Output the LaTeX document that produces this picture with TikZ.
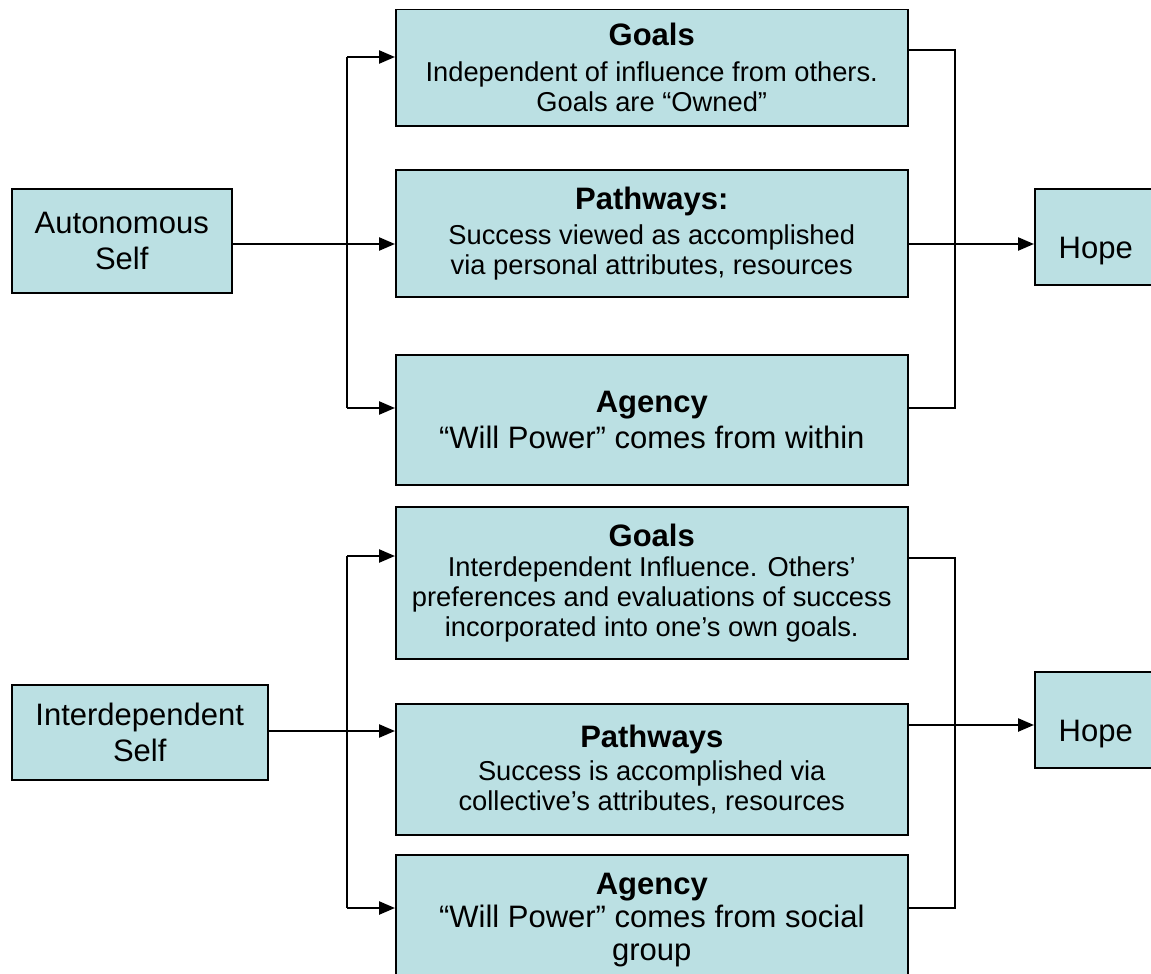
\documentclass[tikz,border=0pt]{standalone}
\usepackage{fontspec}
\setmainfont{Liberation Sans}
\usetikzlibrary{arrows.meta}
\definecolor{boxblue}{HTML}{BBE0E3}
\newcommand\myhd{\fontsize{31}{35}\selectfont\bfseries}
\newcommand\mybd{\fontsize{27.3}{30}\selectfont\mdseries}
\newcommand\mylg{\fontsize{31}{36}\selectfont\mdseries}
\begin{document}
\begin{tikzpicture}[x=1pt,y=-1pt,
  box/.style={draw=black, line width=1.5pt, fill=boxblue, align=center, inner sep=0pt, anchor=north west, font=\fontsize{27}{30}\selectfont},
  bigbox/.style={box, font=\fontsize{31}{36}\selectfont},
  conn/.style={line width=2.4pt, black},
  arr/.style={conn, -{Triangle[length=16pt,width=13pt]}}]
\useasboundingbox (0,0) rectangle (1151,974);
% top group
\node[bigbox, minimum width=220, minimum height=104] (auto) at (11,188) {\mylg Autonomous\\\mylg Self};
\node[box, minimum width=512, minimum height=116] (g1) at (395,9) {\myhd Goals\\[6pt]\mybd Independent of influence from others.\\\mybd Goals are “Owned”};
\node[box, minimum width=512, minimum height=127] (p1) at (395,169) {\myhd Pathways:\\[5pt]\mybd Success viewed as accomplished\\\mybd via personal attributes, resources};
\node[bigbox, minimum width=512, minimum height=130] (a1) at (395,354) {\myhd Agency\\\mylg “Will Power” comes from within};
\node[bigbox, minimum width=122, minimum height=96] (h1) at (1034,188) {\mylg\raisebox{-22pt}[0pt][0pt]{Hope}};
% bottom group
\node[bigbox, minimum width=256, minimum height=95] (inter) at (11,684) {\mylg Interdependent\\\mylg Self};
\node[box, minimum width=512, minimum height=152] (g2) at (395,506) {\raisebox{-3pt}{\myhd Goals}\\[3pt]\mybd Interdependent Influence. Others’\\\mybd preferences and evaluations of success\\\mybd incorporated into one’s own goals.};
\node[box, minimum width=512, minimum height=131] (p2) at (395,703) {\myhd Pathways\\[3pt]\mybd Success is accomplished via\\\mybd collective’s attributes, resources};
\node[bigbox, minimum width=512, minimum height=130, font=\fontsize{31}{33}\selectfont] (a2) at (395,854) {\myhd Agency\\\mylg “Will Power” comes from social\\\mylg group};
\node[bigbox, minimum width=122, minimum height=96] (h2) at (1034,671) {\mylg\raisebox{-22pt}[0pt][0pt]{Hope}};
% coordinates
\coordinate (la) at (347,57);
\coordinate (lb) at (347,408);
\coordinate (ra) at (955,50);
\coordinate (rb) at (955,408);
\coordinate (ya) at (0,244);
\coordinate (lc) at (347,556);
\coordinate (ld) at (347,908);
\coordinate (rc) at (955,558);
\coordinate (rd) at (955,908);
\coordinate (yb) at (0,725);
\coordinate (yc) at (0,731);
% top connectors
\draw[conn] (la) -- (lb);
\draw[arr] (la) -- (la -| g1.west);
\draw[arr] (lb) -- (lb -| a1.west);
\draw[arr] (auto.east |- ya) -- (ya -| p1.west);
\draw[conn] (ra -| g1.east) -- (ra) -- (rb) -- (rb -| a1.east);
\draw[arr] (ya -| p1.east) -- (ya -| h1.west);
% bottom connectors
\draw[conn] (lc) -- (ld);
\draw[arr] (lc) -- (lc -| g2.west);
\draw[arr] (ld) -- (ld -| a2.west);
\draw[arr] (yc -| inter.east) -- (yc -| p2.west);
\draw[conn] (rc -| g2.east) -- (rc) -- (rd) -- (rd -| a2.east);
\draw[arr] (yb -| p2.east) -- (yb -| h2.west);
\end{tikzpicture}
\end{document}
